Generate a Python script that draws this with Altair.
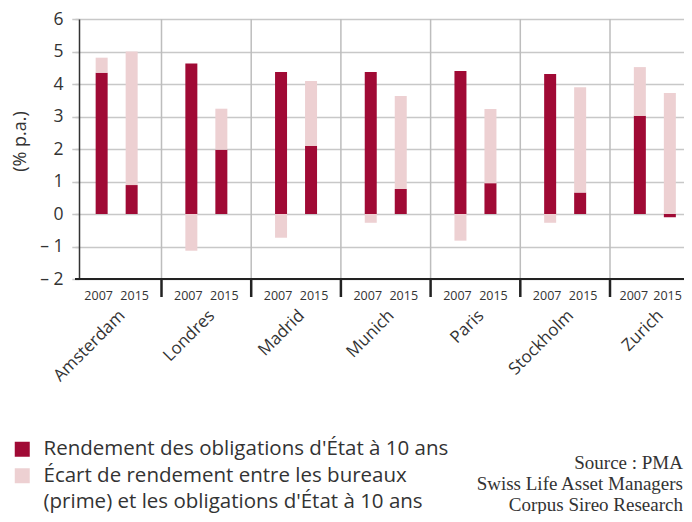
import altair as alt
import pandas as pd

cities = ["Amsterdam", "Londres", "Madrid", "Munich", "Paris", "Stockholm", "Zurich"]
years = ["2007", "2015"]
yield_2007 = [4.35, 4.63, 4.37, 4.37, 4.40, 4.31, 3.02]
yield_2015 = [0.89, 1.98, 2.09, 0.77, 0.95, 0.66, -0.10]
spread_2007 = [0.46, -1.13, -0.73, -0.27, -0.82, -0.27, 1.50]
spread_2015 = [4.11, 1.26, 2.00, 2.86, 2.28, 3.24, 3.72]

s1 = "Rendement des obligations d'État à 10 ans"
s2 = "Écart de rendement entre les bureaux"
s2_cont = "(prime) et les obligations d'État à 10 ans"
source_lines = ["Source : PMA", "Swiss Life Asset Managers", "Corpus Sireo Research"]

rows = []
for i, c in enumerate(cities):
    rows.append(dict(city=c, year="2007", series=s1, order=0, value=yield_2007[i]))
    rows.append(dict(city=c, year="2015", series=s1, order=0, value=yield_2015[i]))
    rows.append(dict(city=c, year="2007", series=s2, order=1, value=spread_2007[i]))
    rows.append(dict(city=c, year="2015", series=s2, order=1, value=spread_2015[i]))
df = pd.DataFrame(rows)
df_years = df[df["order"] == 0]
df_sep = pd.DataFrame({"city": cities[1:]})

W, H = 605, 260
FONT = "Open Sans"
STEP = 89.7
X0 = -7.2
last_city = cities[-1]

xscale = alt.Scale(domain=cities, range=[X0, X0 + STEP * len(cities)], paddingInner=0, paddingOuter=0)
xoff = alt.XOffset("year:N", scale=alt.Scale(domain=years, paddingInner=0.6, paddingOuter=0.795))

bars = alt.Chart(df).mark_bar().encode(
    x=alt.X("city:N", scale=xscale, title=None,
            axis=alt.Axis(labelAngle=-45, labelFontSize=17, labelFont=FONT, labelColor="#333",
                          ticks=False, grid=False, labelPadding=28, domain=False)),
    xOffset=xoff,
    y=alt.Y("value:Q", stack="zero",
            scale=alt.Scale(domain=[-2, 6], nice=False),
            title="(% p.a.)",
            axis=alt.Axis(values=[-2, -1, 0, 1, 2, 3, 4, 5, 6],
                          labelExpr="datum.value < 0 ? '– ' + abs(datum.value) : datum.value",
                          labelFontSize=17.5, labelFont=FONT, labelColor="#333", labelPadding=12,
                          tickSize=4, tickColor="#c8c8c8", tickWidth=1.5,
                          gridColor="#c8c8c8", gridWidth=1.5,
                          domainColor="#333", domainWidth=1.5,
                          titleFontSize=18, titleFont=FONT, titleFontWeight="normal",
                          titleColor="#333", titleBaseline="middle", titleX=-59, titleY=122)),
    color=alt.Color("series:N",
                    scale=alt.Scale(domain=[s1, s2, s2_cont], range=["#A00A35", "#EDD0D2", "transparent"]),
                    legend=alt.Legend(title=None, orient="none", legendX=-67, legendY=420,
                                      symbolType="square", symbolSize=225, symbolStrokeWidth=0,
                                      labelFontSize=20.5, labelFont=FONT, labelColor="#333",
                                      labelLimit=500, rowPadding=5.5, padding=0, labelOffset=11)),
    order=alt.Order("order:Q"),
)

def year_layer(cond, **kw):
    return alt.Chart(df_years).transform_filter(cond).mark_text(
        fontSize=12.5, font=FONT, color="#333", baseline="middle", **kw).encode(
        x=alt.X("city:N"), xOffset=xoff, y=alt.value(H + 17), text="year:N")

year_a = year_layer((alt.datum.year == "2007") & (alt.datum.city != last_city), dx=-3)
year_a2 = year_layer((alt.datum.year == "2007") & (alt.datum.city == last_city), dx=-6)
year_b = year_layer((alt.datum.year == "2015") & (alt.datum.city != last_city), dx=3)
year_c = year_layer((alt.datum.year == "2015") & (alt.datum.city == last_city), align="right", dx=12)

sep_grid = alt.Chart(df_sep).mark_rule(color="#bdbdbd", strokeWidth=1.5).encode(
    x=alt.X("city:N", bandPosition=0),
    y=alt.value(0),
    y2=alt.value(H),
)

sep_tick = alt.Chart(df_sep).mark_rule(color="#222", strokeWidth=2.5).encode(
    x=alt.X("city:N", bandPosition=0),
    y=alt.value(H),
    y2=alt.value(H + 18),
)

x_line = alt.Chart(pd.DataFrame({"k": [0]})).mark_rule(color="#222", strokeWidth=2).encode(
    x=alt.value(-4), x2=alt.value(W), y=alt.value(H))

source = alt.Chart(pd.DataFrame({"k": [0]})).mark_text(
    text=source_lines, align="right", baseline="alphabetic", font="Liberation Serif",
    fontSize=19, color="#333", lineHeight=21,
).encode(x=alt.value(W - 1), y=alt.value(450))

chart = alt.layer(bars, sep_grid, sep_tick, x_line, year_a, year_a2, year_b, year_c, source).properties(
    width=W, height=H,
    padding={"left": 71, "top": 11, "right": 0, "bottom": 235},
    autosize=alt.AutoSizeParams(type="none"),
).configure_view(strokeWidth=0)

chart.save("out.html", embed_options={"renderer": "svg", "actions": False})
